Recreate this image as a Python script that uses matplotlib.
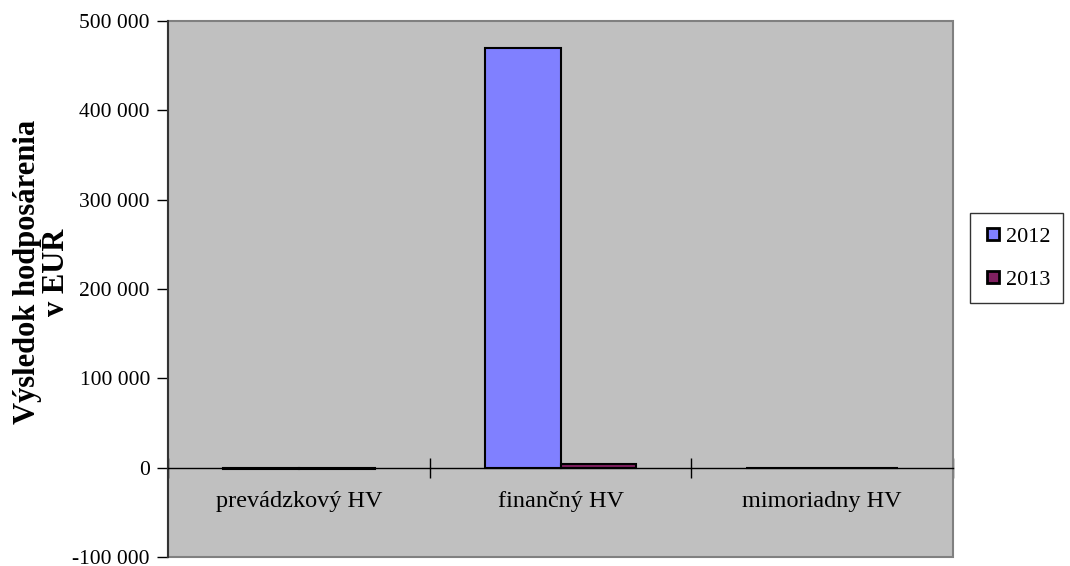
import matplotlib
matplotlib.use("Agg")
from matplotlib import pyplot as plt
import matplotlib.patches as mpatches
import matplotlib.lines as mlines
import matplotlib.ticker as mticker

categories = ["prevádzkový HV", "finančný HV", "mimoriadny HV"]
years = ["2012", "2013"]
values_2012 = [-1200, 469500, 0]
values_2013 = [-1500, 4500, 0]
colors = ["#8080FF", "#802060"]

plt.rcParams["font.family"] = ["Liberation Serif", "DejaVu Serif"]

fig = plt.figure(figsize=(10.7, 5.66), dpi=100)
ax = fig.add_axes([168 / 1070, 1 - 557 / 566, (953 - 168) / 1070, (557 - 21) / 566])
ax.set_facecolor("#C0C0C0")

width = 0.29
centers = [i + 0.5 for i in range(len(categories))]
ax.bar([c - width / 2 for c in centers], values_2012, width, color=colors[0],
       edgecolor="black", linewidth=1.5, label=years[0], zorder=3)
ax.bar([c + width / 2 for c in centers], values_2013, width, color=colors[1],
       edgecolor="black", linewidth=1.5, label=years[1], zorder=3)

ax.set_xlim(0, 3)
ax.set_ylim(-100000, 500000)
ax.yaxis.set_major_locator(mticker.MultipleLocator(100000))
ax.yaxis.set_major_formatter(mticker.FuncFormatter(lambda v, p: f"{int(v):,}".replace(",", " ")))

# category axis runs through zero
for s in ["top", "right"]:
    ax.spines[s].set_visible(False)
ax.spines["bottom"].set_position(("data", 0))
ax.spines["bottom"].set_linewidth(1)
ax.spines["bottom"].set_zorder(4)
ax.spines["left"].set_linewidth(1.5)
ax.spines["left"].set_color("#333333")
ax.add_patch(mpatches.Rectangle((0, 0), 1, 1, transform=ax.transAxes, fill=False,
                                edgecolor="#808080", linewidth=1.5, zorder=2, clip_on=False))

ax.set_xticks([0, 1, 2, 3])
ax.set_xticklabels([])
ax.set_xticks(centers, minor=True)
ax.set_xticklabels(categories, minor=True)
ax.tick_params(axis="x", which="major", direction="inout", length=14, width=1)
ax.tick_params(axis="x", which="minor", length=0, pad=17, labelsize=17.5)
ax.tick_params(axis="y", direction="out", length=8, width=1, labelsize=15.5, pad=5)

fig.text(42 / 1070, 1 - 272 / 566, "Výsledok hodposárenia\nv EUR", fontsize=22,
         fontweight="bold", rotation=90, ha="center", va="center", linespacing=1.0,
         multialignment="center")

handles = [mlines.Line2D([], [], linestyle="none", marker="s", markersize=8,
                         markerfacecolor=colors[i], markeredgecolor="black",
                         markeredgewidth=2, label=years[i]) for i in range(2)]
fig.legend(handles=handles,
           loc="upper left", bbox_to_anchor=(970 / 1070, 1 - 213 / 566),
           fontsize=16, frameon=True, fancybox=False, edgecolor="black",
           handlelength=0.9, handletextpad=0.1, labelspacing=1.0,
           borderpad=0.6, borderaxespad=0)

fig.savefig("out.png", dpi=100, facecolor="white")
